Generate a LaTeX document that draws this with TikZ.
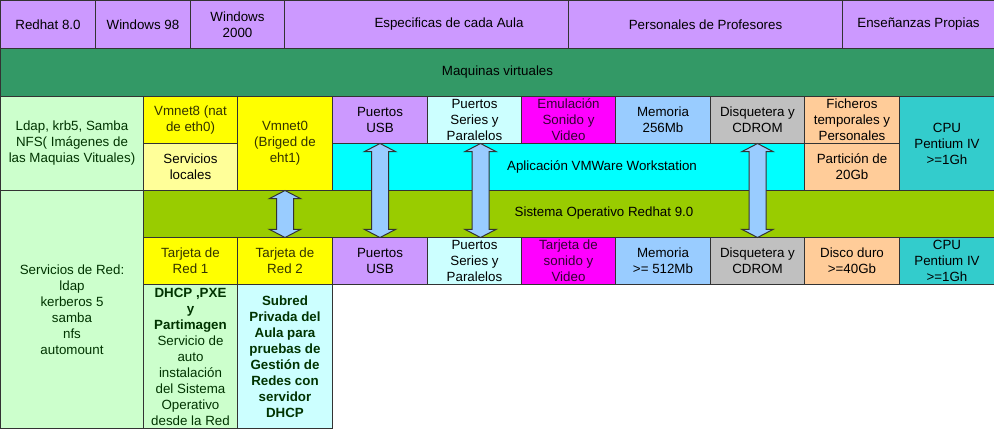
\documentclass[tikz,border=0pt]{standalone}
\usepackage{fontspec}
\setmainfont{Liberation Sans}
\usetikzlibrary{shapes.arrows,calc}
\definecolor{lilac}{HTML}{CC99FF}
\definecolor{maqgreen}{HTML}{339966}
\definecolor{mint}{HTML}{CCFFCC}
\definecolor{yel}{HTML}{FFFF00}
\definecolor{paleyel}{HTML}{FFFF99}
\definecolor{palecyan}{HTML}{CCFFFF}
\definecolor{magfill}{HTML}{FF00FF}
\definecolor{skyblue}{HTML}{99CCFF}
\definecolor{greyfill}{HTML}{C0C0C0}
\definecolor{peach}{HTML}{FFCC99}
\definecolor{tealfill}{HTML}{33CCCC}
\definecolor{aqua}{HTML}{00FFFF}
\definecolor{olivegreen}{HTML}{99CC00}
\definecolor{darktext}{HTML}{003300}
\definecolor{olivetext}{HTML}{333300}
\definecolor{plumtext}{HTML}{330033}
\tikzstyle{cell}=[draw=black!80,line width=0.75pt,anchor=north west,align=center,inner sep=0pt,font=\fontsize{10}{12}\selectfont]
\tikzstyle{lilabox}=[cell,fill=lilac]
\tikzstyle{darkbox}=[cell,fill=maqgreen]
\tikzstyle{mintbox}=[cell,fill=mint,text=darktext]
\tikzstyle{yelbox}=[cell,fill=yel,text=olivetext]
\tikzstyle{paleyelbox}=[cell,fill=paleyel]
\tikzstyle{cyanbox}=[cell,fill=palecyan]
\tikzstyle{magbox}=[cell,fill=magfill,text=plumtext]
\tikzstyle{bluebox}=[cell,fill=skyblue]
\tikzstyle{greybox}=[cell,fill=greyfill]
\tikzstyle{peachbox}=[cell,fill=peach]
\tikzstyle{tealbox}=[cell,fill=tealfill]
\tikzstyle{aquabox}=[cell,fill=aqua]
\tikzstyle{olivebox}=[cell,fill=olivegreen]
\tikzstyle{subredbox}=[cell,fill=palecyan,text=darktext,font=\fontsize{10}{12}\selectfont\bfseries]
\tikzstyle{celltext}=[inner sep=0pt,font=\fontsize{10}{12}\selectfont]
\tikzstyle{blockarrow}=[double arrow,draw=black!80,fill=skyblue,line width=0.75pt,inner xsep=0pt,inner ysep=6pt,
    double arrow head extend=5.25pt,double arrow tip angle=125,rotate=90]

\begin{document}
\begin{tikzpicture}[x=0.75pt,y=-0.75pt]
    \useasboundingbox (0,0) rectangle (994,428);
    % Sistemas invitados y maquinas virtuales
    \foreach \name/\x/\y/\w/\h/\sty/\txt in {redhat8/0/0/95/48/lilabox/{Redhat 8.0},
            win98/95/0/95/48/lilabox/{Windows 98}, win2000/190/0/94/48/lilabox/{Windows\\2000},
            aula/284/0/284/48/lilabox/{}, profes/568/0/274/48/lilabox/{Personales de Profesores},
            propias/842/0/152/48/lilabox/{Enseñanzas Propias},
            maquinas/0/48/994/48/darkbox/{Maquinas virtuales}}
        \node[\sty,minimum width=\w*0.75pt,minimum height=\h*0.75pt] (\name) at (\x,\y) {\txt};
    % Hardware virtual
    \foreach \name/\x/\y/\w/\h/\sty/\txt in {nfs/0/96/143/94/mintbox/{Ldap, krb5, Samba\\NFS( Imágenes de\\las Maquias Vituales)},
            vmnet8/143/96/94/47/yelbox/{Vmnet8 (nat\\de eth0)}, locales/143/143/94/47/paleyelbox/{Servicios\\locales},
            vmnet0/237/96/95/94/yelbox/{Vmnet0\\(Briged de\\eht1)},
            usbv/332/96/95/47/lilabox/{Puertos\\USB}, serv/427/96/94/47/cyanbox/{Puertos\\Series y\\Paralelos},
            sonv/521/96/94/47/magbox/{Emulación\\Sonido y\\Video}, memv/615/96/95/47/bluebox/{Memoria\\256Mb},
            disv/710/96/94/47/greybox/{Disquetera y\\CDROM}, fich/804/96/95/47/peachbox/{Ficheros\\temporales y\\Personales},
            part/804/143/95/47/peachbox/{Partición de\\20Gb}, cpuv/899/96/95/94/tealbox/{CPU\\Pentium IV\\>=1Gh},
            vmware/332/143/472/47/aquabox/{}}
        \node[\sty,minimum width=\w*0.75pt,minimum height=\h*0.75pt] (\name) at (\x,\y) {\txt};
    % Sistema anfitrion y hardware real
    \foreach \name/\x/\y/\w/\h/\sty/\txt in {so/143/190/851/47/olivebox/{},
            redsrv/0/190/143/238/mintbox/{Servicios de Red:\\ldap\\kerberos 5\\samba\\nfs\\automount},
            red1/143/237/94/47/yelbox/{Tarjeta de\\Red 1}, red2/237/237/95/47/yelbox/{Tarjeta de\\Red 2},
            usbh/332/237/95/47/lilabox/{Puertos\\USB}, serh/427/237/94/47/cyanbox/{Puertos\\Series y\\Paralelos},
            sonh/521/237/94/47/magbox/{Tarjeta de\\sonido y\\Video}, memh/615/237/95/47/bluebox/{Memoria\\>= 512Mb},
            dish/710/237/94/47/greybox/{Disquetera y\\CDROM}, disco/804/237/95/47/peachbox/{Disco duro\\>=40Gb},
            cpuh/899/237/95/47/tealbox/{CPU\\Pentium IV\\>=1Gh},
            dhcp/143/284/94/144/mintbox/{\textbf{DHCP ,PXE}\\\textbf{y}\\\textbf{Partimagen}\\Servicio de\\auto\\instalación\\del Sistema\\Operativo\\desde la Red},
            subred/237/284/95/144/subredbox/{Subred\\Privada del\\Aula para\\pruebas de\\Gestión de\\Redes con\\servidor\\DHCP}}
        \node[\sty,minimum width=\w*0.75pt,minimum height=\h*0.75pt] (\name) at (\x,\y) {\txt};

    \node[celltext] (aulatxt) at (449,24) {Especificas de cada Aula};
    \node[celltext] (vmwaretxt) at (602,166.5) {Aplicación VMWare Workstation};
    \node[celltext] (sotxt) at (604,213.5) {Sistema Operativo Redhat 9.0};

    % Flechas entre capas
    \node[blockarrow,minimum height=47*0.75pt] (ared) at ($(vmnet0.south)!0.5!(red2.north)$) {};
    \node[blockarrow,minimum height=94*0.75pt] (ausb) at ($(usbv.south)!0.5!(usbh.north)$) {};
    \node[blockarrow,minimum height=94*0.75pt] (aser) at ($(serv.south)!0.5!(serh.north)+(6,0)$) {};
    \node[blockarrow,minimum height=94*0.75pt] (adis) at ($(disv.south)!0.5!(dish.north)$) {};
\end{tikzpicture}
\end{document}
